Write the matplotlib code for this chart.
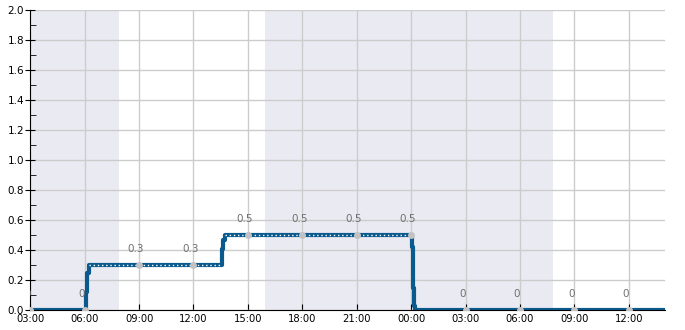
import numpy as np
import pandas as pd
import matplotlib
matplotlib.use("Agg")
import matplotlib.pyplot as plt
import matplotlib.dates as mdates
from matplotlib.ticker import MultipleLocator

# series (step, post), times on 2023-12-05 .. 2023-12-06
times = ["2023-12-05 03:00", "2023-12-05 06:00", "2023-12-05 06:03",
         "2023-12-05 06:08", "2023-12-05 06:13", "2023-12-05 13:30",
         "2023-12-05 13:33", "2023-12-05 13:38", "2023-12-05 13:43",
         "2023-12-06 00:00", "2023-12-06 00:02", "2023-12-06 00:05",
         "2023-12-06 00:09", "2023-12-06 00:12", "2023-12-06 14:00"]
values = [0.0, 0.0, 0.12, 0.25, 0.3, 0.3, 0.41, 0.47, 0.5,
          0.5, 0.42, 0.15, 0.03, 0.0, 0.0]

# labelled points every 3 hours
label_times = pd.date_range("2023-12-05 03:00", "2023-12-06 12:00", freq="3h")
label_values = [0, 0, 0.3, 0.3, 0.5, 0.5, 0.5, 0.5, 0, 0, 0, 0]

# night shading
night_start = ["2023-12-05 03:00", "2023-12-05 15:58"]
night_end = ["2023-12-05 07:52", "2023-12-06 07:51"]

t = pd.to_datetime(times)
v = np.array(values)

fig = plt.figure(figsize=(6.85, 3.3), dpi=100)
ax = fig.add_axes([0.0442, 0.0606, 0.9266, 0.9076])

for s, e in zip(night_start, night_end):
    ax.axvspan(pd.Timestamp(s), pd.Timestamp(e), color="#eaeaf2", lw=0, zorder=0)

ax.grid(True, which="major", color="#cccccc", lw=1, zorder=1)
ax.set_axisbelow(True)

ax.step(t, v, where="post", color="#0b5a8e", lw=3.0, zorder=2,
        solid_capstyle="butt")

# white dotted line along flat nonzero parts
for i in range(len(v) - 1):
    if v[i] > 0 and v[i] == v[i + 1]:
        ax.plot([t[i], t[i + 1]], [v[i], v[i + 1]], color="white", lw=1,
                ls=(0, (1, 2)), zorder=3)

ax.plot(label_times, label_values, "o", color="#c2c2c2", ms=5, mew=0,
        zorder=4)
for lt, lv in zip(label_times, label_values):
    ax.annotate(f"{lv:g}", (lt, lv), xytext=(-3, 16),
                textcoords="offset pixels", ha="center", va="center",
                fontsize=7.5, color="#707070", clip_on=True,
                annotation_clip=False)

ax.set_xlim(pd.Timestamp("2023-12-05 03:00"), pd.Timestamp("2023-12-06 14:00"))
ax.set_ylim(0, 2)
ax.xaxis.set_major_locator(mdates.HourLocator(byhour=range(0, 24, 3)))
ax.xaxis.set_major_formatter(mdates.DateFormatter("%H:%M"))
ax.yaxis.set_major_locator(MultipleLocator(0.2))
ax.yaxis.set_minor_locator(MultipleLocator(0.1))
ax.yaxis.set_major_formatter(plt.FuncFormatter(lambda y, _: f"{y:.1f}"))

for side in ["top", "right"]:
    ax.spines[side].set_visible(False)
ax.spines["left"].set_color("black")
ax.spines["bottom"].set_color("black")

ax.tick_params(axis="x", direction="in", length=4, labelsize=7.2, pad=3)
ax.tick_params(axis="y", which="major", direction="inout", length=7,
               labelsize=7.5, pad=1)
ax.tick_params(axis="y", which="minor", direction="in", length=4)

fig.savefig("out.png", dpi=100)
